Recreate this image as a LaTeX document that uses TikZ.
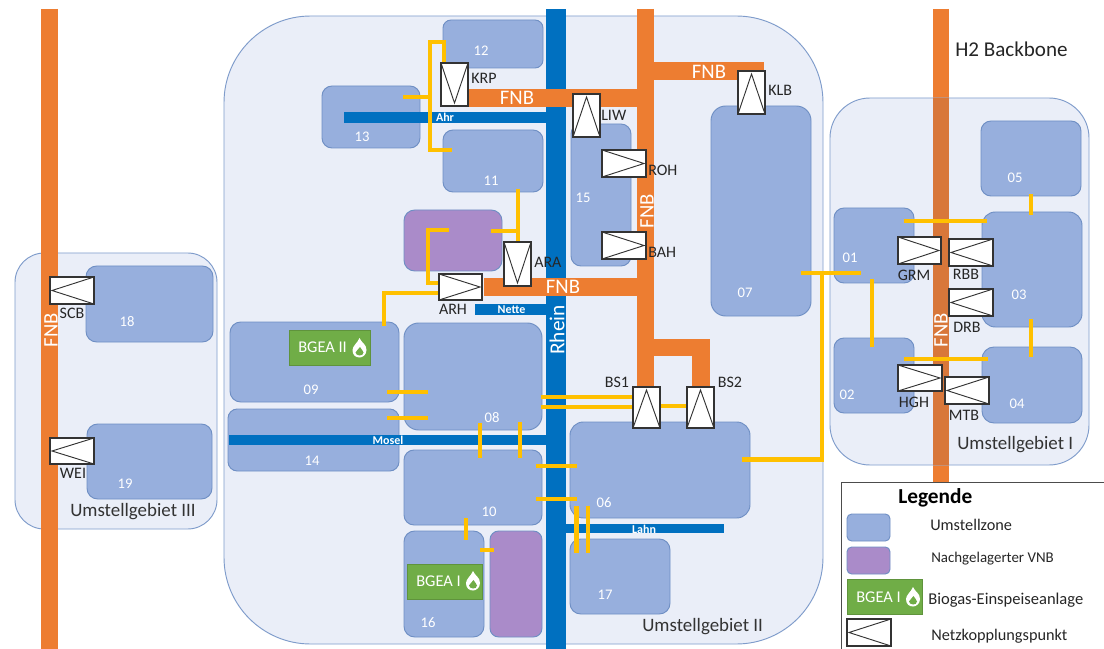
\documentclass[tikz,border=0pt]{standalone}
\usepackage{fontspec}
\setmainfont{Carlito}
\definecolor{areaF}{HTML}{EAEEF8}
\definecolor{areaD}{HTML}{7F9CCB}
\definecolor{zoneF}{HTML}{97AFDD}
\definecolor{zoneD}{HTML}{6F8FC4}
\definecolor{vnbF}{HTML}{AA8BC9}
\definecolor{fnb}{HTML}{ED7D31}
\definecolor{fnbdim}{HTML}{D8773A}
\definecolor{river}{HTML}{0070C0}
\definecolor{link}{HTML}{FFC000}
\definecolor{bgea}{HTML}{70AD47}
\tikzset{
 x=0.75pt,y=-0.75pt,
 area/.style={draw=areaD,fill=areaF,line width=0.7pt},
 zone/.style={draw=zoneD,fill=zoneF,line width=0.7pt},
 vnb/.style={draw=zoneD,fill=vnbF,line width=0.7pt},
 fnbline/.style={draw=fnb,line width=13pt},
 linkline/.style={draw=link,line width=3.5pt},
 stationbox/.style={draw=black!80,fill=white,line width=0.9pt},
 tri/.style={draw=black!80,line width=0.7pt},
 lab/.style={font=\fontsize{12}{14}\selectfont,text=black!85,inner sep=0pt},
 zonelab/.style={font=\fontsize{11}{13}\selectfont,text=white,inner sep=0pt},
 fnblab/.style={font=\fontsize{15.5}{18}\selectfont,text=white,inner sep=0pt},
 riverlab/.style={font=\fontsize{9}{11}\selectfont\bfseries,text=white,inner sep=0pt},
 arealab/.style={font=\fontsize{14.2}{16}\selectfont,text=black!80,inner sep=0pt},
 leglab/.style={font=\fontsize{12.2}{14}\selectfont,text=black!85,inner sep=0pt,anchor=west},
 bgeabox/.style={draw=bgea!85!black,fill=bgea,line width=0.5pt},
 bgealab/.style={font=\fontsize{12.3}{14}\selectfont,text=white,inner sep=0pt},
}
\newcommand{\zn}[7][zone]{\draw[#1,rounded corners=#7pt] (#3,#4) rectangle (#5,#6) coordinate (#2);}
\newcommand{\flame}[2]{\fill[white,shift={(#1,#2)}] (0,-10) .. controls (2,-5) and (7,-4) .. (7,2) .. controls (7,7) and (3,9.5) .. (0,9.5) .. controls (-4,9.5) and (-7,7) .. (-7,2) .. controls (-7,-2) and (-2,-5) .. (0,-10) -- cycle;
 \fill[bgea,shift={(#1,#2)}] (0.5,-1) .. controls (2,2) and (4,3) .. (4,4.5) .. controls (4,6.5) and (2,7.5) .. (0,7.5) .. controls (-2,7.5) and (-4,6) .. (-4,4.5) .. controls (-4,3) and (-1,2) .. (0.5,-1) -- cycle;}
\newcommand{\stU}[5]{\draw[stationbox] (#2,#3) rectangle (#4,#5) coordinate (#1);\draw[tri] (#2,#5) -- ({(#2+#4)/2},{#3+3}) -- (#4,#5);}
\newcommand{\stD}[5]{\draw[stationbox] (#2,#3) rectangle (#4,#5) coordinate (#1);\draw[tri] (#2,#3) -- ({(#2+#4)/2},{#5-3}) -- (#4,#3);}
\newcommand{\stR}[5]{\draw[stationbox] (#2,#3) rectangle (#4,#5) coordinate (#1);\draw[tri] (#2,#3) -- ({#4-2},{(#3+#5)/2}) -- (#2,#5);}
\newcommand{\stL}[5]{\draw[stationbox] (#2,#3) rectangle (#4,#5) coordinate (#1);\draw[tri] (#4,#3) -- ({#2+2},{(#3+#5)/2}) -- (#4,#5);}
\begin{document}
\begin{tikzpicture}
\useasboundingbox[fill=white] (0,0) rectangle (1104,649);
% Areas
\draw[area,rounded corners=22pt] (15,253) rectangle (217,529);
\draw[area,rounded corners=65pt] (224,16) rectangle (823,644);
\draw[fnbline,line width=11.6pt] (941,9) -- (941,482);
\draw[area,rounded corners=30pt] (830,98) rectangle (1089,465);
\begin{scope}
\clip (830,98) rectangle (1089,465);
\draw[draw=fnbdim,line width=11.6pt] (941,98) -- (941,465);
\end{scope}
\draw[fnbline] (49.5,9) -- (49.5,649);
% Area II zones
\zn{z12}{443}{20}{543}{68}{6}
\zn{z13}{322}{86}{420}{148}{7.5}
\zn{z11}{443}{130}{543}{192}{7.5}
\zn[vnb]{v1}{404}{210}{502}{271}{8}
\zn{z15}{571}{124}{631}{266}{7.5}
\zn{z07}{711}{106}{811}{316}{11}
\zn{z09}{230}{322}{399}{402}{8}
\zn{z08}{404}{323}{542}{430}{11}
\zn{z14}{228}{409}{399}{471}{7}
\zn{z10}{404}{450}{542}{525}{7.5}
\zn{z06}{570}{422}{750}{518}{10}
\zn{z16}{404}{531}{484}{637}{8}
\zn[vnb]{v2}{490}{531}{542}{637}{6.5}
\zn{z17}{570}{539}{670}{614}{8}
% Area I zones
\zn{z05}{981}{121}{1081}{196}{7.5}
\zn{z01}{834}{208}{914}{283}{7.5}
\zn{z03}{982}{212}{1082}{327}{10}
\zn{z02}{834}{338}{914}{413}{7.5}
\zn{z04}{982}{347}{1082}{423}{9}
% Area III zones
\zn{z18}{86}{266}{213}{342}{8}
\zn{z19}{87}{424}{212}{499}{8}
% Rivers
\fill[river] (546,9) rectangle (566,649);
\fill[river] (344,112) rectangle (546,123);
\fill[river] (475,304) rectangle (546,315);
\fill[river] (229,435) rectangle (546,445);
\fill[river] (566,524) rectangle (724,533);
% FNB network in area II
\draw[fnbline] (645.5,9) -- (645.5,386);
\draw[fnbline] (462,98) -- (645.5,98);
\draw[fnbline] (645.5,71) -- (764,71);
\draw[fnbline] (484,287) -- (645.5,287);
\draw[fnbline,miter limit=10] (645.5,347.5) -- (701,347.5) -- (701,386);
% Yellow links
\draw[linkline] (444,63) -- (444,42) -- (430,42) -- (430,150) -- (452,150);
\draw[linkline] (403,97) -- (430,97);
\draw[linkline] (518,189) -- (518,243);
\draw[linkline] (491,231) -- (518,231);
\draw[linkline] (449,230) -- (428,230) -- (428,283) -- (440,283);
\draw[linkline] (384,326) -- (384,293) -- (440,293);
\draw[linkline] (387,392) -- (428,392);
\draw[linkline] (387,418) -- (428,418);
\draw[linkline] (480,423) -- (480,458);
\draw[linkline] (520,422) -- (520,458);
\draw[linkline] (541,397) -- (633,397);
\draw[linkline] (541,407) -- (633,407);
\draw[linkline] (659,406) -- (687,406);
\draw[linkline] (536,466) -- (577,466);
\draw[linkline] (536,499) -- (577,499);
\draw[linkline] (466,518) -- (466,540);
\draw[linkline] (480,550) -- (494,550);
\draw[linkline] (576.5,506) -- (576.5,553);
\draw[linkline] (588,506) -- (588,553);
\draw[linkline] (742,459.5) -- (822,459.5) -- (822,273);
\draw[linkline] (801,273) -- (861,273);
\draw[linkline] (904,221) -- (987,221);
\draw[linkline] (904,359) -- (988,359);
\draw[linkline] (872,279) -- (872,347);
\draw[linkline] (1031,194) -- (1031,215);
\draw[linkline] (1031,319) -- (1031,357);
% Stations
\stD{KRP}{441}{63}{468}{106}
\stU{KLB}{738}{71}{765}{114}
\stU{LIW}{573}{94}{600}{137}
\stR{ROH}{602}{150}{646}{177}
\stR{BAH}{602}{232}{646}{259}
\stD{ARA}{504}{242}{531}{286}
\stR{ARH}{439}{274}{482}{300}
\stU{BS1}{633}{387}{660}{428}
\stU{BS2}{687}{387}{714}{428}
\stR{GRM}{898}{237}{941}{264}
\stL{RBB}{949}{239}{993}{266}
\stL{DRB}{949}{289}{993}{316}
\stR{HGH}{898}{365}{942}{391}
\stL{MTB}{945}{377}{989}{404}
\stL{SCB}{50}{277}{94}{304}
\stL{WEI}{50}{438}{94}{464}
% Station labels
\node[lab,anchor=west] (tKRP) at (471,78) {KRP};
\node[lab,anchor=west] (tKLB) at (768,90) {KLB};
\node[lab,anchor=west] (tLIW) at (601,115) {LIW};
\node[lab,anchor=west] (tROH) at (648,170) {ROH};
\node[lab,anchor=west] (tBAH) at (648,252) {BAH};
\node[lab,anchor=west] (tARA) at (534,262) {ARA};
\node[lab] (tARH) at (453,309) {ARH};
\node[lab] (tBS1) at (617,382) {BS1};
\node[lab] (tBS2) at (730,382) {BS2};
\node[lab] (tGRM) at (914,275) {GRM};
\node[lab] (tRBB) at (966,274) {RBB};
\node[lab] (tDRB) at (967,327) {DRB};
\node[lab] (tHGH) at (914,402) {HGH};
\node[lab] (tMTB) at (964,415) {MTB};
\node[lab] (tSCB) at (72,313) {SCB};
\node[lab] (tWEI) at (73,473) {WEI};
% Zone labels
\foreach \t/\a/\b in {12/481/51,13/362/137,11/491/181,15/583/198,07/745/293,09/311/390,08/492/418,14/312/461,10/489/512,06/604/503,16/428/623,17/605/595,05/1015/178,01/850/258,03/1019/295,02/847/395,04/1017/404,18/127/322,19/125/484}
  \node[zonelab] (n\t) at (\a,\b) {\t};
% FNB labels
\node[fnblab] (f1) at (517,98) {FNB};
\node[fnblab] (f2) at (709,72) {FNB};
\node[fnblab] (f3) at (563,287) {FNB};
\node[fnblab,rotate=90] (f4) at (647,211) {FNB};
\node[fnblab,rotate=90] (f5) at (941,330) {FNB};
\node[fnblab,rotate=90] (f6) at (51,330) {FNB};
% River labels
\node[riverlab] (r1) at (445,117) {Ahr};
\node[riverlab] (r2) at (511.5,310) {Nette};
\node[riverlab] (r3) at (388,440) {Mosel};
\node[riverlab] (r4) at (644,529) {Lahn};
\node[font=\fontsize{16}{18}\selectfont,text=white,inner sep=0pt,rotate=90] (r5) at (557,330) {Rhein};
% Area labels
\node[arealab,anchor=west] (aI) at (957,445) {Umstellgebiet I};
\node[arealab,anchor=west] (aII) at (642,627) {Umstellgebiet II};
\node[arealab,anchor=west] (aIII) at (70,512) {Umstellgebiet III};
\node[font=\fontsize{15.8}{18}\selectfont,text=black!85,inner sep=0pt,anchor=west] (h2) at (955,49) {H2 Backbone};
% BGEA
\draw[bgeabox] (289,330) rectangle (370,365);
\node[bgealab,anchor=west] (bg2) at (298,347) {BGEA II};
\flame{359.5}{348}
\draw[bgeabox] (407,564) rectangle (482,599);
\node[bgealab,anchor=west] (bg1) at (416,581) {BGEA I};
\flame{473}{581}
% Legend
\fill[white] (841,482) rectangle (1104,649);
\draw[draw=black!70,line width=0.7pt] (1104,482) -- (841,482) -- (841,649);
\node[font=\fontsize{16}{18}\selectfont\bfseries,text=black,inner sep=0pt,anchor=west] (lg) at (898,498) {Legende};
\zn{lz}{847}{514}{890}{541}{3.5}
\zn[vnb]{lv}{847}{547}{890}{574}{3.5}
\draw[bgeabox] (847,579) rectangle (922,614);
\node[bgealab,anchor=west] (bg3) at (856,597) {BGEA I};
\flame{913}{597}
\stL{lk}{847}{619}{891}{646}
\node[leglab] (l1) at (930,525) {Umstellzone};
\node[leglab,font=\fontsize{11.2}{14}\selectfont] (l2) at (931,559) {Nachgelagerter VNB};
\node[leglab,font=\fontsize{12.4}{14}\selectfont] (l3) at (928,600) {Biogas-Einspeiseanlage};
\node[leglab] (l4) at (931,636) {Netzkopplungspunkt};
\end{tikzpicture}
\end{document}
